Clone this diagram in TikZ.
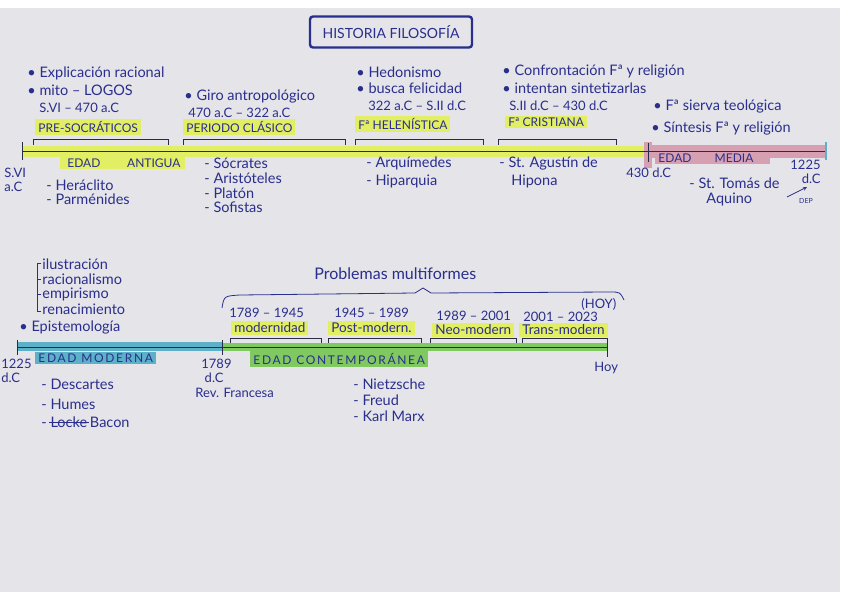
\documentclass[tikz,border=0pt]{standalone}
\usepackage{fontspec}
\setmainfont{Lato}
\definecolor{ink}{RGB}{42,46,140}
\definecolor{pen}{RGB}{40,44,70}
\definecolor{paper}{RGB}{228,228,233}
\definecolor{hly}{RGB}{226,238,100}
\definecolor{hlp}{RGB}{214,160,178}
\definecolor{hlb}{RGB}{92,176,200}
\definecolor{hlg}{RGB}{128,200,96}

\begin{document}
\begin{tikzpicture}[x=1pt, y=-1pt, thick, >=stealth,
    txt/.style={text=ink, anchor=west, inner sep=1pt, font=\fontsize{14.5}{15}\selectfont},
    date/.style={txt, font=\fontsize{13}{14}\selectfont},
    hl/.style={txt, inner xsep=3pt, inner ysep=2pt, font=\fontsize{13.5}{14}\selectfont},
    capslab/.style={hl, font=\fontsize{12}{13}\selectfont},
    era/.style={capslab, align=left},
    spaced/.style={capslab, font=\fontsize{12}{13}\selectfont\addfontfeature{LetterSpace=14}},
    line/.style={pen, line width=1pt}]
    \useasboundingbox (0,0) rectangle (848,599);
    % paper
    \fill[paper] (0,8) rectangle (840,592);
    % title
    \node[draw=ink, line width=2.4pt, rounded corners=3pt, minimum width=162, minimum height=31, text=ink, font=\fontsize{14}{15}\selectfont] (title) at (391,32) {HISTORIA FILOSOFÍA};

    % ---------- first timeline ----------
    % notes above
    \node[txt] (expl) at (26,73) {• Explicación racional};
    \node[txt] (mito) at (26,90) {• mito – LOGOS};
    \node[date] (svi) at (38,108) {S.VI – 470 a.C};
    \node[txt] (giro) at (183,96) {• Giro antropológico};
    \node[date] (clas) at (187,113) {470 a.C – 322 a.C};
    \node[txt] (hedo) at (355,72) {• Hedonismo};
    \node[txt] (feli) at (355,88) {• busca felicidad};
    \node[date] (hele) at (367,106) {322 a.C – S.II d.C};
    \node[txt] (conf) at (501,71) {• Confrontación Fª y religión};
    \node[txt] (sint) at (501,88) {• intentan sintetizarlas};
    \node[date] (cris) at (508,106) {S.II d.C – 430 d.C};
    \node[txt] (sier) at (652,106) {• Fª sierva teológica};
    \node[txt] (sinf) at (650,128) {• Síntesis Fª y religión};
    % periods
    \node[capslab, fill=hly] (presoc) at (35,127) {PRE-SOCRÁTICOS};
    \node[capslab, fill=hly] (periodo) at (183,127) {PERIODO CLÁSICO};
    \node[capslab, fill=hly] (helen) at (355,124) {Fª HELENÍSTICA};
    \node[capslab, fill=hly] (cristi) at (505,122) {Fª CRISTIANA};
    \foreach \a/\b in {33/168, 183/345, 355/483, 498/616}
        \draw[line] (\a,145) -- (\a,139) -- (\b,139) -- (\b,145);
    % axis
    \fill[hly] (22,146) rectangle (648,157);
    \fill[hlp] (646,145) rectangle (826,158);
    \fill[hlp] (644,142) rectangle (652,168);
    \draw[line] (22,151) -- (826,151);
    \draw[line] (22,142) -- (22,160);
    \draw[line] (648,143) -- (648,162);
    \draw[hlb, line width=2pt] (826,142) -- (826,160);
    \node[era, fill=hly, text width=119] (antigua) at (60,163) {\hspace*{4pt}EDAD\hfill ANTIGUA\hspace*{2pt}};
    \node[era, fill=hlp, text width=109] (media) at (655,158) {EDAD\hfill MEDIA\hspace*{14pt}};
    % dates and names below
    \node[date, align=left] (sva) at (3,180) {S.VI\\a.C};
    \node[txt] (hera) at (45,185) {- Heráclito};
    \node[txt] (parm) at (45,199) {- Parménides};
    \node[txt] (socr) at (203,163) {- Sócrates};
    \node[txt] (aris) at (203,178) {- Aristóteles};
    \node[txt] (plat) at (203,193) {- Platón};
    \node[txt] (sofi) at (203,207) {- Sofistas};
    \node[txt] (arqu) at (365,163) {- Arquímedes};
    \node[txt] (hipa) at (365,181) {- Hiparquia};
    \node[txt] (agus) at (498,163) {- St. Agustín de};
    \node[txt] (hipo) at (510,181) {Hipona};
    \node[date] (d430) at (625,173) {430 d.C};
    \node[txt] (toma) at (688,183) {- St. Tomás de};
    \node[txt] (aqui) at (705,199) {Aquino};
    \node[date, align=right, anchor=east] (d1225) at (822,172) {1225\\d.C};
    \node[text=ink, inner sep=0pt, font=\fontsize{7}{7}\selectfont] (dep) at (806,201) {DEP};
    \coordinate (depa) at (787,197);
    \coordinate (depb) at (807,187);
    \draw[->, ink, line width=0.8pt] (depa) -- (depb);

    % ---------- second timeline ----------
    \draw[ink, line width=0.8pt] (41,263) -- (37,263) -- (37,311) -- (41,311);
    \foreach \y in {279, 294} \draw[ink, line width=0.8pt] (37,\y) -- (41,\y);
    \node[txt] (ilus) at (41,264) {ilustración};
    \node[txt] (raci) at (41,279) {racionalismo};
    \node[txt] (empi) at (41,294) {empirismo};
    \node[txt] (rena) at (41,309) {renacimiento};
    \node[txt] (epis) at (18,327) {• Epistemología};
    % brace
    \node[txt, font=\fontsize{16}{17}\selectfont] (prob) at (313,274) {Problemas multiformes};
    \draw[ink, line width=0.8pt] (222,308) .. controls (224,296) .. (240,295) -- (415,293) -- (423,288) -- (431,293) -- (610,292) .. controls (620,292) .. (624,300);
    % periods
    \node[date] (y1789) at (228,313) {1789 – 1945};
    \node[date] (y1945) at (333,313) {1945 – 1989};
    \node[date] (y1989) at (435,316) {1989 – 2001};
    \node[date] (y2001) at (522,317) {2001 – 2023};
    \node[date] (hoyp) at (580,304) {(HOY)};
    \node[hl, fill=hly] (moder) at (231,328) {modernidad};
    \node[hl, fill=hly] (postm) at (328,328) {Post-modern.};
    \node[hl, fill=hly] (neom) at (432,330) {Neo-modern};
    \node[hl, fill=hly] (transm) at (519,330) {Trans-modern};
    \foreach \a/\b in {230/321, 328/421, 430/516, 522/607}
        \draw[line] (\a,343) -- (\a,338) -- (\b,338) -- (\b,343);
    % axis
    \fill[hlb] (17,342) rectangle (222,351);
    \fill[hlg] (222,343) rectangle (607,351);
    \draw[line] (17,347) -- (607,347);
    \draw[line] (17,340) -- (17,355);
    \draw[line] (222,340) -- (222,355);
    \draw[line] (607,339) -- (607,357);
    \node[spaced, fill=hlb] (moderna) at (35,358) {EDAD MODERNA};
    \node[spaced, fill=hlg] (contem) at (250,359) {EDAD CONTEMPORÁNEA};
    % dates and names below
    \node[date, align=left] (e1225) at (0,371) {1225\\d.C};
    \node[date, align=left] (e1789) at (200,371) {1789\\\ d.C};
    \node[date] (revf) at (194,393) {Rev. Francesa};
    \node[txt] (desc) at (40,384) {- Descartes};
    \node[txt] (hume) at (40,404) {- Humes};
    \node[txt] (lock) at (40,422) {- Locke};
    \node[txt, anchor=west] (baco) at (lock.east) {Bacon};
    \draw[ink, line width=0.8pt] ([xshift=9pt]lock.west) -- (lock.east);
    \node[txt] (niet) at (352,384) {- Nietzsche};
    \node[txt] (freu) at (352,400) {- Freud};
    \node[txt] (marx) at (352,416) {- Karl Marx};
    \node[date] (hoy) at (593,368) {Hoy};
\end{tikzpicture}
\end{document}
